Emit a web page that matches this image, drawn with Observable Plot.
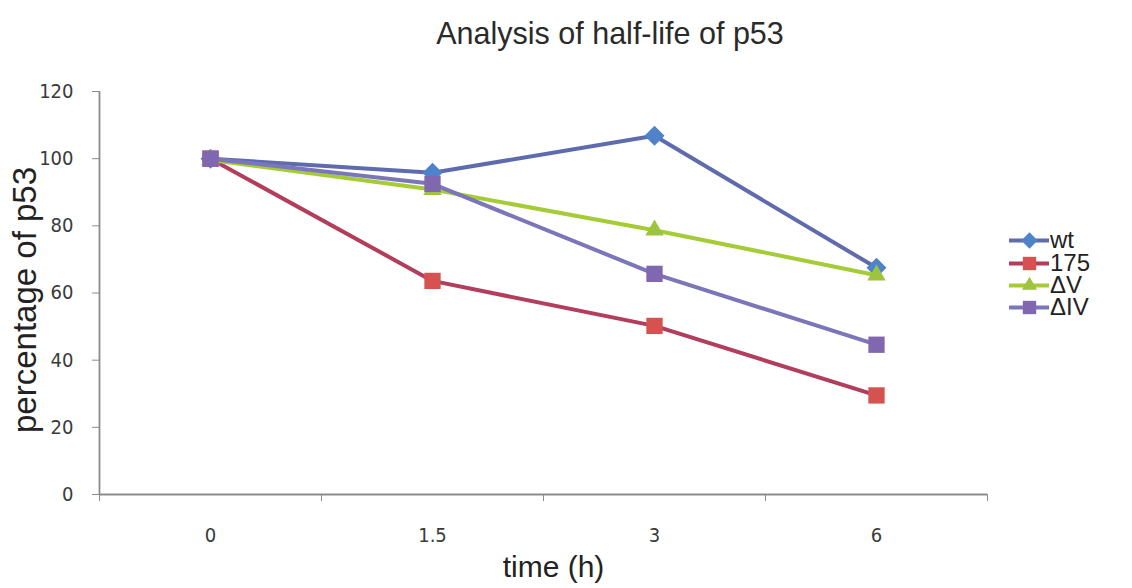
<!DOCTYPE html>
<html>
<head>
<meta charset="utf-8">
<script src="https://cdn.jsdelivr.net/npm/d3@7"></script>
<script src="https://cdn.jsdelivr.net/npm/@observablehq/plot@0.6"></script>
<style>
  html, body { margin: 0; padding: 0; background: #fff; }
  #wrap { position: relative; width: 1132px; height: 588px; overflow: hidden; }
  #title { position: absolute; left: 0; top: 3px; width: 1132px; height: 60px;
    font-family: "Liberation Sans", Arial, sans-serif; font-size: 30.5px; color: #2a2a2a;
    text-align: center; line-height: 60px; text-indent: 88px; }
  #chart { position: absolute; left: 0; top: 60px; }
  #legend { position: absolute; left: 1009px; top: 229px; font-family: "Liberation Sans", Arial, sans-serif;
    font-size: 24px; color: #222; }
  .row { display: flex; align-items: center; height: 22.4px; }
  .row svg { flex: none; }
  .row span { margin-left: 1px; line-height: 22px; }
</style>
</head>
<body>
<div id="wrap">
  <div id="title">Analysis of half-life of p53</div>
  <div id="chart"></div>
  <div id="legend"></div>
</div>
<script>
// ---- data ----
const times = ["0", "1.5", "3", "6"];
const seriesNames = ["wt", "175", "ΔV", "ΔIV"];
const wtValues = [100, 95.8, 106.8, 67.5];
const m175Values = [100, 63.6, 50.2, 29.5];
const dVValues = [99.6, 90.8, 78.7, 65.3];
const dIVValues = [100, 92.5, 65.7, 44.6];
const yTicks = [0, 20, 40, 60, 80, 100, 120];

// ---- styles ----
const lineColors = ["#5f6bad", "#b23d5c", "#a5cb36", "#7b76b9"];
const markerColors = ["#4f83c9", "#d4524f", "#9dc341", "#8068b0"];
const markerSymbols = ["diamond2", "square", "triangle2", "square"];
const markerR = [9, 9.2, 8.8, 9.2];

const valueSets = [wtValues, m175Values, dVValues, dIVValues];
const rows = [];
seriesNames.forEach((s, si) => {
  times.forEach((t, ti) => rows.push({series: s, si, ti, time: t, value: valueSets[si][ti]}));
});

const marks = [];
// axis lines
marks.push(Plot.ruleY([0], {stroke: "#8c8c8c", strokeWidth: 1.8}));
marks.push(Plot.ruleX([-0.5], {stroke: "#8c8c8c", strokeWidth: 1.8}));
// y axis
marks.push(Plot.axisY({ticks: yTicks, tickSize: 7, tickPadding: 19, stroke: "#8c8c8c", fill: "#3a3a3a",
  fontSize: 20, fontFamily: "DejaVu Sans Condensed", label: null}));
// x axis: boundary ticks
marks.push(Plot.axisX({ticks: [-0.5, 0.5, 1.5, 2.5, 3.5], tickSize: 7, tickFormat: () => "", stroke: "#8c8c8c", label: null}));
// x axis: category labels
marks.push(Plot.axisX({ticks: [0, 1, 2, 3], tickSize: 0, tickPadding: 33, tickFormat: i => times[i],
  fill: "#3a3a3a", fontSize: 20, fontFamily: "DejaVu Sans Condensed", label: null}));
// axis titles
marks.push(Plot.text(["time (h)"], {frameAnchor: "bottom", lineAnchor: "middle", dy: 73, dx: 10, fontSize: 30,
  fontFamily: "Liberation Sans", fill: "#222"}));
marks.push(Plot.text(["percentage of p53"], {frameAnchor: "left", textAnchor: "middle", lineAnchor: "middle",
  rotate: -90, dx: -74, dy: 7, fontSize: 33, fontFamily: "Liberation Sans", fill: "#222"}));

seriesNames.forEach((s, si) => {
  const d = rows.filter(r => r.si === si);
  marks.push(Plot.line(d, {x: "ti", y: "value", stroke: lineColors[si], strokeWidth: 4}));
  marks.push(Plot.dot(d, {x: "ti", y: "value", symbol: () => markerSymbols[si], r: markerR[si],
    fill: markerColors[si], stroke: "none"}));
});

const chart = Plot.plot({
  width: 1132,
  height: 528,
  marginLeft: 99,
  marginRight: 145,
  marginTop: 31,
  marginBottom: 94,
  x: {type: "linear", domain: [-0.5, 3.5], axis: null},
  y: {domain: [0, 120], axis: null},
  symbol: {type: "identity"},
  marks
});
document.getElementById("chart").appendChild(chart);

// legend
const legend = document.getElementById("legend");
seriesNames.forEach((s, si) => {
  const row = document.createElement("div");
  row.className = "row";
  const sw = Plot.plot({
    width: 40, height: 22, margin: 0,
    x: {domain: [0, 1], axis: null}, y: {domain: [0, 1], axis: null},
    symbol: {type: "identity"},
    marks: [
      Plot.ruleY([0.5], {stroke: lineColors[si], strokeWidth: 4}),
      Plot.dot([0.5], {x: d => d, y: () => 0.5, symbol: () => markerSymbols[si], r: markerR[si] * 0.82,
        fill: markerColors[si], stroke: "none"})
    ]
  });
  row.appendChild(sw);
  const label = document.createElement("span");
  label.textContent = s;
  row.appendChild(label);
  legend.appendChild(row);
});
</script>
</body>
</html>
